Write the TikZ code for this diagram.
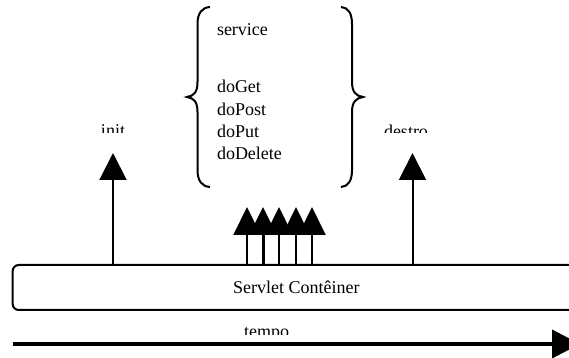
\documentclass[tikz,border=0pt]{standalone}
\usepackage{fontspec}
\setmainfont{Liberation Serif}
\usetikzlibrary{arrows.meta}
\begin{document}
\begin{tikzpicture}[x=0.5pt,y=-0.5pt,
  lbl/.style={font=\fontsize{9}{11}\selectfont, inner sep=0pt},
  container/.style={draw, line width=1pt, rounded corners=3pt,
    minimum width=283.65pt, minimum height=22.5pt, inner sep=0pt,
    font=\fontsize{9}{11}\selectfont},
  uparrow/.style={line width=1pt, -{Triangle[width=13.5pt,length=13.5pt]}},
  callarrow/.style={line width=1pt, -{Triangle[width=13.5pt,length=14pt]}},
  bracepath/.style={line width=1pt},
  timearrow/.style={line width=2pt, -{Triangle[width=14pt,length=14pt]}}]
\useasboundingbox (0,0) rectangle (569,358);
\clip (0,0) rectangle (569,358);

% container
\node[container] (cont) at (296.35,287.5) {Servlet Contêiner};

% method list and braces
\node[lbl, anchor=base west] (service) at (216.6,36) {service};
\node[lbl, anchor=base west] (m1) at (216.6,93) {doGet};
\node[lbl, anchor=base west] (m2) at (216.6,115.3) {doPost};
\node[lbl, anchor=base west] (m3) at (216.6,137.6) {doPut};
\node[lbl, anchor=base west] (m4) at (216.6,160) {doDelete};

\draw[bracepath] (210,7) .. controls (202,7.5) and (197.5,13) .. (197.5,24)
  -- (197.5,82) .. controls (197.5,92) and (194,96) .. (187,97)
  .. controls (194,98) and (197.5,102) .. (197.5,112)
  -- (197.5,170) .. controls (197.5,181) and (202,186.5) .. (210,187);
\draw[bracepath] (341,7) .. controls (348,7.5) and (352,13) .. (352,24)
  -- (352,82) .. controls (352,92) and (356,96) .. (363,97)
  .. controls (356,98) and (352,102) .. (352,112)
  -- (352,170) .. controls (352,181) and (348,186.5) .. (341,187);

% init / destroy labels (clipped as in the original)
\begin{scope}
  \clip (60,100) rectangle (470,133);
  \node[lbl, anchor=base] (init) at (113,137) {init};
  \node[lbl, anchor=base] (destro) at (406,138) {destro};
\end{scope}

% arrows from container
\coordinate (initTip) at (113,153);
\coordinate (destTip) at (412.5,153);
\draw[uparrow] (cont.north -| initTip) -- (initTip);
\draw[uparrow] (cont.north -| destTip) -- (destTip);

\coordinate (c1) at (247,207);
\coordinate (c2) at (263,207);
\coordinate (c3) at (279,207);
\coordinate (c4) at (296,207);
\coordinate (c5) at (312,207);
\draw[callarrow] (cont.north -| c1) -- (c1);
\draw[callarrow, line width=1.5pt] (cont.north -| c2) -- (c2);
\draw[callarrow] (cont.north -| c3) -- (c3);
\draw[callarrow] (cont.north -| c4) -- (c4);
\draw[callarrow] (cont.north -| c5) -- (c5);

% time axis
\begin{scope}
  \clip (200,315) rectangle (340,335);
  \node[lbl, anchor=base] (tempo) at (266.5,337.5) {tempo};
\end{scope}
\coordinate (t0) at (12.7,344);
\coordinate (t1) at (580,344);
\draw[timearrow] (t0) -- (t1);
\end{tikzpicture}
\end{document}
